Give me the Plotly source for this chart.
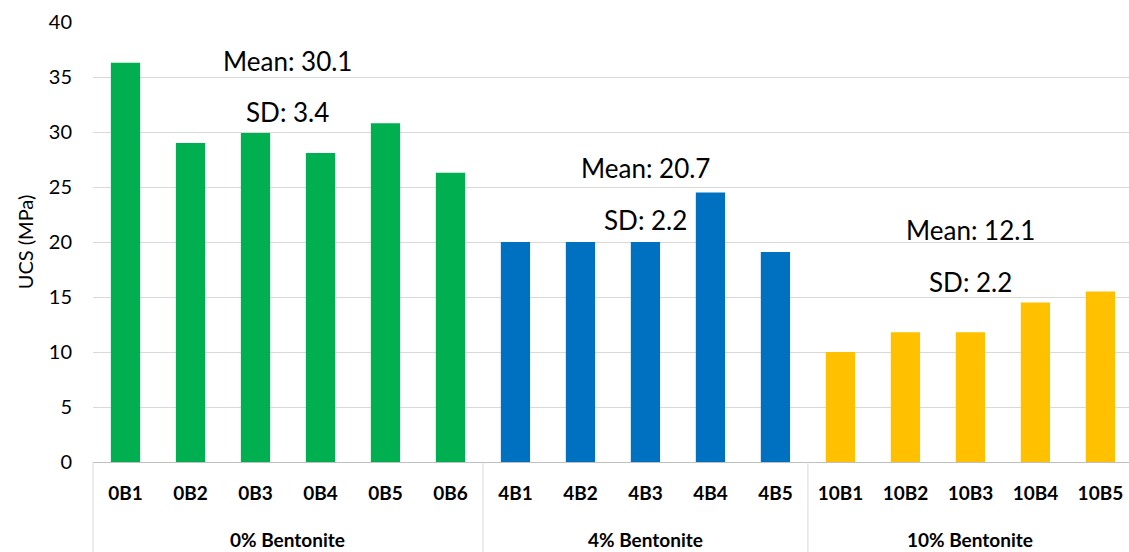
import plotly.graph_objects as go

groups = ["0% Bentonite"] * 6 + ["4% Bentonite"] * 5 + ["10% Bentonite"] * 5
samples = ["0B1", "0B2", "0B3", "0B4", "0B5", "0B6",
           "4B1", "4B2", "4B3", "4B4", "4B5",
           "10B1", "10B2", "10B3", "10B4", "10B5"]
ucs = [36.3, 29.0, 29.9, 28.1, 30.8, 26.3,
       20.0, 20.0, 20.0, 24.5, 19.1,
       10.0, 11.8, 11.8, 14.5, 15.5]
group_names = ["0% Bentonite", "4% Bentonite", "10% Bentonite"]
group_colors = {"0% Bentonite": "#00B050", "4% Bentonite": "#0070C0", "10% Bentonite": "#FFC000"}

# stats labels: (x position index, y value, text)
stat_x = [2.5, 2.5, 8.0, 8.0, 13.0, 13.0]
stat_y = [36.5, 31.8, 26.7, 22.0, 21.1, 16.4]
stat_text = ["Mean: 30.1", "SD: 3.4", "Mean: 20.7", "SD: 2.2", "Mean: 12.1", "SD: 2.2"]

FONT = "Lato, Carlito, Calibri, sans-serif"

fig = go.Figure()
fig.add_trace(go.Bar(
    x=samples,
    y=ucs,
    marker=dict(color=[group_colors[g] for g in groups], line=dict(width=0)),
    width=0.45,
    showlegend=False,
))

for xi, yi, t in zip(stat_x, stat_y, stat_text):
    fig.add_annotation(x=xi, y=yi, xref="x", yref="y", text=t, showarrow=False,
                       font=dict(family=FONT, size=26, color="#000000"))

# group labels and dividers, derived from group membership
start = 0
bounds = []
for g in group_names:
    n = groups.count(g)
    centre = start + (n - 1) / 2
    fig.add_annotation(x=centre, y=-0.177, xref="x", yref="paper", text="<b>%s</b>" % g,
                       showarrow=False, yanchor="middle",
                       font=dict(family=FONT, size=19, color="#000000"))
    bounds.append(start - 0.5)
    start += n

for i, b in enumerate(bounds):
    if i == 0:
        fig.add_shape(type="line", xref="paper", yref="paper", x0=0, x1=0, y0=0, y1=-0.21,
                      line=dict(color="#D9D9D9", width=1))
    else:
        fig.add_shape(type="line", xref="x", yref="paper", x0=b, x1=b, y0=0, y1=-0.21,
                      line=dict(color="#D9D9D9", width=1))

fig.update_layout(
    width=1129, height=552,
    margin=dict(l=93, r=0, t=22, b=90, autoexpand=False),
    paper_bgcolor="white", plot_bgcolor="white",
    font=dict(family=FONT, color="#000000"),
)
fig.update_xaxes(
    type="category",
    range=[-0.5, 15.44],
    automargin=False,
    showgrid=False,
    showline=True, linecolor="#BFBFBF", linewidth=1,
    ticks="", ticklabelstandoff=14,
    tickfont=dict(family=FONT, size=19, color="#000000", weight="bold"),
)
fig.update_yaxes(
    range=[0, 40], dtick=5,
    automargin=False,
    showgrid=True, gridcolor="#D9D9D9", gridwidth=1,
    zeroline=False, showline=False,
    tickfont=dict(family=FONT, size=20, color="#000000"),
    title=dict(text="UCS (MPa)", font=dict(family=FONT, size=20, color="#000000"), standoff=9),
    ticklabelstandoff=20,
)

fig.write_html("out.html", config={"displayModeBar": False},
               post_script="document.body.style.margin='0';document.body.style.overflow='hidden';")
